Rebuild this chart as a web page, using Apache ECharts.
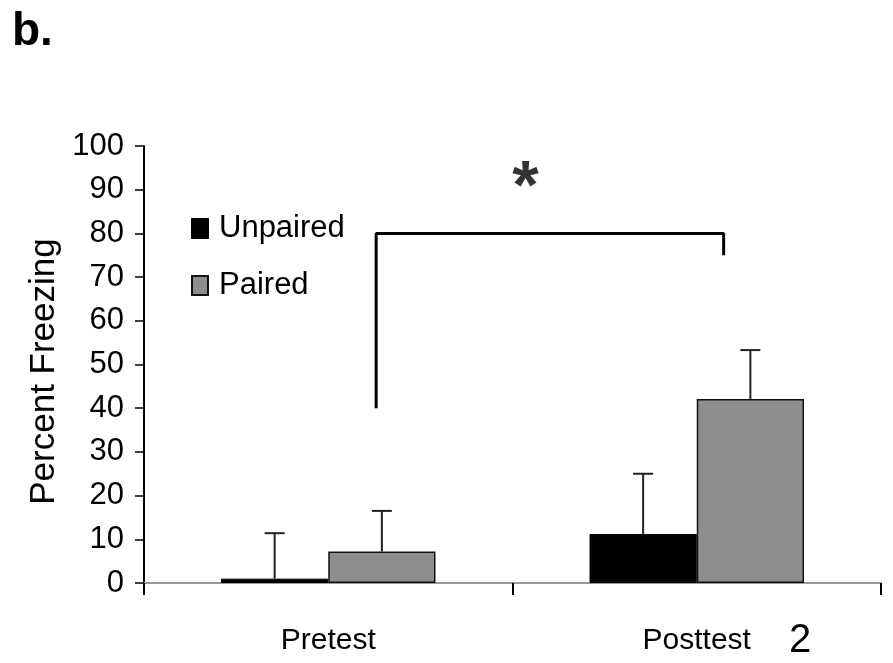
<!DOCTYPE html>
<html>
<head>
<meta charset="utf-8">
<script src="https://cdn.jsdelivr.net/npm/echarts@6/dist/echarts.min.js"></script>
<style>
html,body{margin:0;padding:0;background:#fff;}
#chart{width:893px;height:663px;}
</style>
</head>
<body>
<div id="chart"></div>
<script>
// ---- data ----
const categories = ['Pretest', 'Posttest'];
const seriesNames = ['Unpaired', 'Paired'];
const unpairedMean = [1, 11.2];
const pairedMean = [7.2, 42.1];
const unpairedUpper = [11.4, 25];
const pairedUpper = [16.5, 53.3];
const yMin = 0, yMax = 100, yStep = 10;
// significance bracket, x in category units (0..2), y in percent
const bracketPts = [[0.63, 40], [0.63, 80], [1.573, 80], [1.573, 75]];
const starPt = [1.035, 90];

const FONT = '"Liberation Sans", Arial, Helvetica, sans-serif';
const chart = echarts.init(document.getElementById('chart'));

const BAR_FRAC = 0.291;
function errSeries(name, means, uppers, sign) {
  return {
    type: 'custom',
    name: name + ' err',
    xAxisIndex: 0, yAxisIndex: 0,
    z: 5,
    silent: true,
    data: means.map((m, i) => [i, m, uppers[i]]),
    encode: { x: 0, y: [1, 2] },
    renderItem: function (params, api) {
      const i = api.value(0), m = api.value(1), u = api.value(2);
      const base = api.coord([i, m]);
      const hi = api.coord([i, u]);
      const band = api.size([1, 0])[0];
      const x = base[0] + sign * band * BAR_FRAC / 2;
      const cap = 10;
      const st = { stroke: '#222', lineWidth: 2 };
      return {
        type: 'group',
        children: [
          { type: 'line', shape: { x1: x, y1: base[1], x2: x, y2: hi[1] }, style: st },
          { type: 'line', shape: { x1: x - cap, y1: hi[1], x2: x + cap, y2: hi[1] }, style: st }
        ]
      };
    }
  };
}

const option = {
  animation: false,
  backgroundColor: '#fff',
  grid: { left: 144, right: 12, top: 146, bottom: 80, containLabel: false },
  legend: {
    orient: 'vertical',
    left: 186, top: 208,
    icon: 'rect',
    itemWidth: 16, itemHeight: 19,
    itemGap: 26,
    data: seriesNames,
    textStyle: { fontFamily: FONT, fontSize: 31, color: '#000', lineHeight: 30, padding: [0, 0, 0, 6] }
  },
  xAxis: [
    {
      type: 'category',
      data: categories,
      boundaryGap: true,
      axisLine: { show: true, lineStyle: { color: '#999', width: 2 } },
      axisTick: { show: true, alignWithLabel: false, length: 12, lineStyle: { color: '#000', width: 2 } },
      axisLabel: { margin: 43, fontFamily: FONT, fontSize: 30, color: '#000' },
      splitLine: { show: false }
    },
    {
      type: 'value', min: 0, max: 2, show: false, position: 'bottom'
    }
  ],
  yAxis: {
    type: 'value',
    min: yMin, max: yMax, interval: yStep,
    name: 'Percent Freezing',
    nameLocation: 'middle',
    nameRotate: 90,
    nameGap: 82,
    nameTextStyle: { fontFamily: FONT, fontSize: 35, color: '#000', padding: [0, 14, 0, 0] },
    axisLine: { show: true, lineStyle: { color: '#000', width: 2 } },
    axisTick: { show: true, length: 9, lineStyle: { color: '#000', width: 1.5 } },
    axisLabel: { margin: 20, fontFamily: FONT, fontSize: 31, color: '#000' },
    splitLine: { show: false }
  },
  series: [
    {
      type: 'bar', name: 'Unpaired', data: unpairedMean,
      barWidth: (BAR_FRAC * 100) + '%', barGap: '0%',
      itemStyle: { color: '#000', borderColor: '#000', borderWidth: 1 }
    },
    {
      type: 'bar', name: 'Paired', data: pairedMean,
      barWidth: (BAR_FRAC * 100) + '%', barGap: '0%',
      itemStyle: { color: '#8e8e8e', borderColor: '#111', borderWidth: 1.5 }
    },
    errSeries('Unpaired', unpairedMean, unpairedUpper, -1),
    errSeries('Paired', pairedMean, pairedUpper, 1),
    {
      type: 'line', name: 'bracket', xAxisIndex: 1, yAxisIndex: 0,
      data: bracketPts, symbol: 'none', silent: true,
      lineStyle: { color: '#000', width: 3 }, z: 6
    },
    {
      type: 'scatter', name: 'star', xAxisIndex: 1, yAxisIndex: 0,
      data: [starPt], symbolSize: 1, itemStyle: { color: 'rgba(0,0,0,0)' }, silent: true,
      label: { show: true, position: 'inside', formatter: '*', fontFamily: FONT, fontWeight: 'bold', fontSize: 68, color: '#000' }
    }
  ],
  graphic: [
    { type: 'text', left: 12, top: 9, style: { text: 'b.', font: 'bold 46px ' + FONT, fill: '#000' } },
    { type: 'text', left: 789, top: 621, style: { text: '2', font: '40px ' + FONT, fill: '#000' } }
  ]
};
chart.setOption(option);
</script>
</body>
</html>
